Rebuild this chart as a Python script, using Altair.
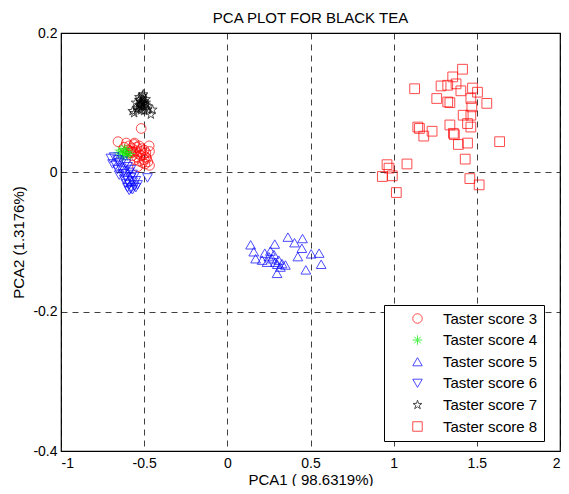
import altair as alt
import pandas as pd

# ---- data ----
x3 = [-0.518, -0.657, -0.607, -0.558, -0.468, -0.478, -0.468, -0.62, -0.59, -0.575, -0.56, -0.545,
      -0.53, -0.515, -0.50, -0.49, -0.58, -0.565, -0.55, -0.535, -0.52, -0.505, -0.49, -0.60,
      -0.57, -0.545, -0.52, -0.50, -0.485, -0.555, -0.53, -0.51, -0.495, -0.54, -0.58, -0.47]
y3 = [0.063, 0.044, 0.042, 0.042, 0.030, 0.015, 0.010, 0.036, 0.038, 0.035, 0.040, 0.036,
      0.038, 0.034, 0.032, 0.028, 0.030, 0.029, 0.031, 0.027, 0.030, 0.025, 0.022, 0.032,
      0.024, 0.022, 0.024, 0.018, 0.020, 0.018, 0.016, 0.014, 0.012, 0.008, 0.028, 0.038]

x4 = [-0.655, -0.64, -0.625, -0.61, -0.60, -0.585, -0.63, -0.615]
y4 = [0.028, 0.032, 0.026, 0.030, 0.024, 0.027, 0.022, 0.034]

x5 = [0.140, 0.285, 0.364, 0.404, 0.452, 0.448, 0.424, 0.159, 0.170, 0.225, 0.259, 0.269,
      0.309, 0.329, 0.349, 0.299, 0.504, 0.552, 0.564, 0.472, 0.209, 0.239, 0.289, 0.319,
      0.250, 0.280, 0.300]
y5 = [-0.104, -0.103, -0.093, -0.101, -0.095, -0.109, -0.121, -0.114, -0.124, -0.116, -0.113, -0.124,
      -0.126, -0.131, -0.133, -0.145, -0.117, -0.116, -0.132, -0.140, -0.126, -0.129, -0.129, -0.136,
      -0.121, -0.118, -0.132]

x6 = [-0.70, -0.68, -0.66, -0.69, -0.67, -0.65, -0.63, -0.61, -0.66, -0.64, -0.62, -0.60,
      -0.58, -0.65, -0.63, -0.61, -0.59, -0.57, -0.62, -0.60, -0.58, -0.56, -0.61, -0.59,
      -0.57, -0.55, -0.60, -0.58, -0.56, -0.54, -0.59, -0.57, -0.55, -0.48]
y6 = [0.020, 0.022, 0.018, 0.012, 0.010, 0.014, 0.016, 0.012, 0.004, 0.006, 0.002, 0.008,
      0.004, -0.004, -0.002, -0.006, 0.000, -0.003, -0.010, -0.012, -0.008, -0.006, -0.016, -0.018,
      -0.014, -0.012, -0.022, -0.024, -0.020, -0.018, -0.026, -0.025, -0.022, -0.008]

x7 = [-0.56, -0.54, -0.53, -0.52, -0.51, -0.50, -0.49, -0.48, -0.55, -0.53, -0.52, -0.51,
      -0.50, -0.49, -0.54, -0.52, -0.50, -0.48, -0.46, -0.53, -0.51, -0.49, -0.57, -0.45,
      -0.515, -0.505, -0.525]
y7 = [0.085, 0.092, 0.096, 0.094, 0.098, 0.093, 0.097, 0.095, 0.100, 0.104, 0.101, 0.106,
      0.102, 0.105, 0.090, 0.089, 0.088, 0.090, 0.083, 0.108, 0.110, 0.100, 0.088, 0.090,
      0.099, 0.112, 0.097]

x8 = [1.414, 1.355, 1.126, 1.285, 1.325, 1.375, 1.404, 1.474, 1.504, 1.259, 1.338, 1.560,
      1.464, 1.470, 1.418, 1.464, 1.444, 1.464, 1.338, 1.145, 1.155, 1.231, 1.181, 1.359,
      1.365, 1.389, 1.444, 1.637, 1.430, 0.960, 0.972, 1.080, 0.932, 0.992, 1.458, 1.514,
      1.016, 1.325]
y8 = [0.148, 0.137, 0.120, 0.124, 0.125, 0.127, 0.117, 0.121, 0.115, 0.106, 0.100, 0.099,
      0.106, 0.094, 0.082, 0.082, 0.070, 0.065, 0.068, 0.065, 0.063, 0.059, 0.052, 0.056,
      0.054, 0.040, 0.042, 0.044, 0.019, 0.011, 0.006, 0.012, -0.006, -0.005, -0.009, -0.018,
      -0.029, 0.101]

labels = ["Taster score 3", "Taster score 4", "Taster score 5",
          "Taster score 6", "Taster score 7", "Taster score 8"]
colors = ["#ff0000", "#00ee00", "#0000ff", "#0000ff", "#000000", "#ff0000"]

x_ticks = [-1, -0.5, 0, 0.5, 1, 1.5, 2]
y_ticks = [-0.4, -0.2, 0, 0.2]

ASTERISK = "M0,-1L0,1M-1,0L1,0M-0.7,-0.7L0.7,0.7M-0.7,0.7L0.7,-0.7"
STAR = ("M0,-1L0.2245,-0.309L0.951,-0.309L0.363,0.118L0.588,0.809L0,0.382"
        "L-0.588,0.809L-0.363,0.118L-0.951,-0.309L-0.2245,-0.309Z")
shapes = ["circle", ASTERISK, "triangle-up", "triangle-down", STAR, "square"]

series = [(x3, y3), (x4, y4), (x5, y5), (x6, y6), (x7, y7), (x8, y8)]
rows = []
for lab, (xs, ys) in zip(labels, series):
    for xv, yv in zip(xs, ys):
        rows.append({"PCA1": xv, "PCA2": yv, "score": lab})
df = pd.DataFrame(rows)

FONT = "Liberation Sans"

chart = alt.Chart(df).mark_point(filled=False, size=95, strokeWidth=1).encode(
    x=alt.X("PCA1:Q",
            scale=alt.Scale(domain=[-1, 2], nice=False, zero=False),
            axis=alt.Axis(values=x_ticks, title="PCA1 ( 98.6319%)",
                          labelExpr="toString(datum.value)",
                          titleY=28, titleBaseline="middle")),
    y=alt.Y("PCA2:Q",
            scale=alt.Scale(domain=[-0.4, 0.2], nice=False, zero=False),
            axis=alt.Axis(values=y_ticks, title="PCA2 (1.3176%)",
                          labelExpr="toString(datum.value)",
                          titleX=-43, titleY=209, titleAngle=-90,
                          titleAlign="center", titleBaseline="middle")),
    color=alt.Color("score:N", scale=alt.Scale(domain=labels, range=colors),
                    legend=alt.Legend(title=None, orient="none", legendX=323, legendY=272,
                                      strokeColor="black", fillColor="white", padding=6,
                                      symbolOffset=20, labelOffset=18, rowPadding=5.6,
                                      labelFont=FONT, labelFontSize=15, labelColor="black",
                                      symbolSize=90, symbolStrokeWidth=1)),
    shape=alt.Shape("score:N", scale=alt.Scale(domain=labels, range=shapes)),
).properties(
    width=499, height=418,
    title=alt.Title("PCA PLOT FOR BLACK TEA", font=FONT, fontSize=15,
                    fontWeight="normal", color="black", frame="group", offset=0),
    autosize=alt.AutoSizeParams(type="none"),
    padding={"left": 53, "top": 25, "right": 1, "bottom": 35},
).configure_axis(
    domain=False, ticks=False, grid=True,
    gridColor="#000000", gridOpacity=0.75, gridDash=[6, 5], gridWidth=1,
    labelFont=FONT, labelFontSize=14, labelColor="black",
    titleFont=FONT, titleFontSize=15, titleFontWeight="normal", titleColor="black",
).configure_axisX(labelPadding=5).configure_axisY(labelPadding=4).configure_view(
    stroke="black", strokeWidth=1.2
)

chart.save("out.html", embed_options={"renderer": "svg", "actions": False})
